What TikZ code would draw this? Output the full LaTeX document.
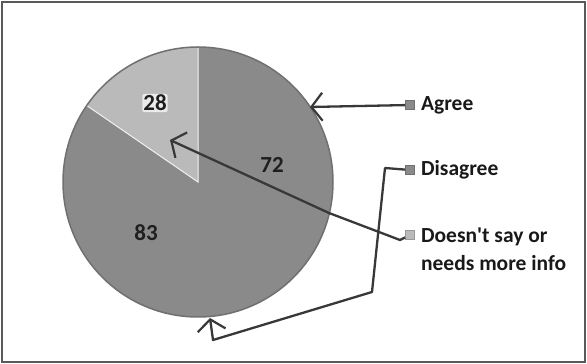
\documentclass[tikz,border=0pt]{standalone}
\usepackage{fontspec}
\setmainfont{Carlito}
\usetikzlibrary{arrows.meta, positioning}
\definecolor{piedark}{HTML}{8A8A8A}
\definecolor{pielight}{HTML}{BABABA}
\definecolor{pieedge}{HTML}{707070}
\definecolor{inkline}{HTML}{383838}

\begin{document}
\begin{tikzpicture}[x=1pt,y=1pt,>={Straight Barb[length=11pt,width=28pt,line width=2.2pt]},
  key/.style={draw=pieedge,fill=piedark,minimum size=9pt,inner sep=0pt,line width=0.8pt},
  keytext/.style={font=\fontsize{21.5}{28}\selectfont\bfseries,inner sep=0pt,align=left,text=black!90},
  count/.style={font=\fontsize{23}{25}\selectfont\bfseries,text=black!88,inner sep=1pt},
  hand/.style={draw=inkline,line width=2.3pt,line join=round},
  node distance=65pt]

\useasboundingbox (0,0) rectangle (587,364);
\draw[black!65,line width=2.5pt] (2,2) rectangle (585,362);

% define the pie
  \coordinate (c) at (198,182);
  \fill[piedark] (c) circle (135);
  \fill[pielight] (c) -- ++(145.5:135) arc[start angle=145.5,end angle=90,radius=135] -- cycle;
  \draw[white!80!pielight,line width=1pt] ([shift={(145.5:135)}]c) -- (c) -- ([shift={(90:135)}]c);
  \draw[pieedge,line width=1.5pt] (c) circle (135);

% define the slice counts
  \node[count]   (agreenum)    at (272,199) {72};
  \node[count]   (disagreenum) at (146,131) {83};
  \node[count, fill=black!8, rounded corners=2pt] (unsurenum) at (155,261) {28};

% define the legend
  \node[key]     (agreekey)    at (410,259) {};
  \node[key]     (disagreekey) [below of=agreekey] {};
  \node[key, fill=pielight, draw=black!40] (unsurekey) [below of=disagreekey] {};
  \node[keytext] (agreetext)    [right=6pt of agreekey] {Agree};
  \node[keytext] (disagreetext) [right=6pt of disagreekey] {Disagree};
  \node[keytext] (unsuretext)   [right=6pt of unsurekey, yshift=-14pt] {Doesn\textquotesingle t say or\\needs more info};

% define the bends of the links
  \coordinate (agreetip)     at (310,257);
  \coordinate (unsurebend)   at (400,124);
  \coordinate (unsureedge)   at (329,151);
  \coordinate (unsuretip)    at (170,224);
  \coordinate (disagreebend) at (385,196);
  \coordinate (disagreedrop) at (372,72);
  \coordinate (disagreefoot) at (213,24);
  \coordinate (disagreetip)  at (210,46);

% define the links
  \draw[hand,->] (agreekey) -- (agreetip);
  \draw[hand,->] (unsurekey) -- (unsurebend) -- (unsureedge) -- (unsuretip);
  \draw[hand,->] (disagreekey) -- (disagreebend) -- (disagreedrop)
        -- (disagreefoot) -- (disagreetip);

\end{tikzpicture}
\end{document}
